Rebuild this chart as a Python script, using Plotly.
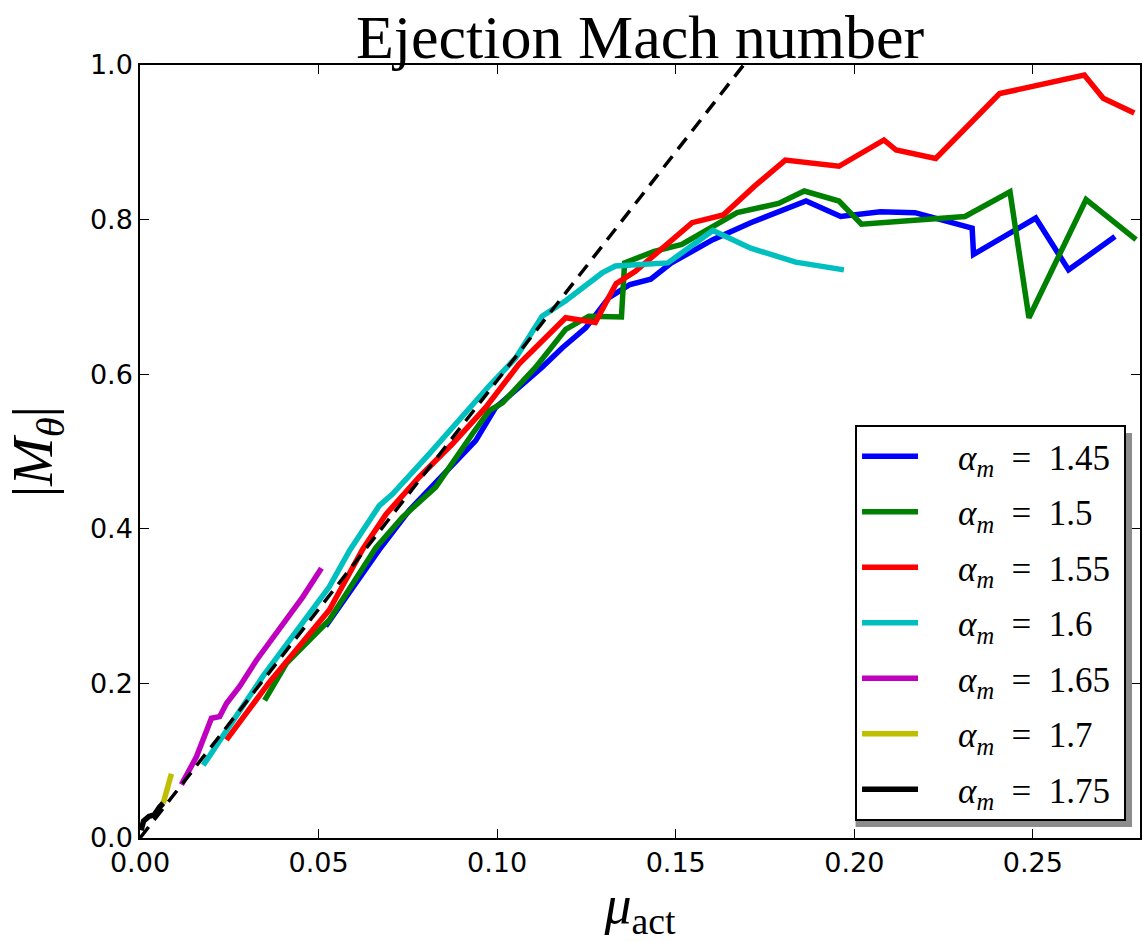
import plotly.graph_objects as go

# ---- data ----
labels = ["1.45", "1.5", "1.55", "1.6", "1.65", "1.7", "1.75"]
colors = ["#0000ff", "#008000", "#ff0000", "#00bfbf", "#bf00bf", "#bfbf00", "#000000"]

x_145 = [0.052, 0.067, 0.0754, 0.094, 0.0996, 0.1126, 0.1182, 0.1248, 0.1313, 0.1372, 0.143, 0.1488,
         0.1604, 0.171, 0.1865, 0.1962, 0.2073, 0.217, 0.233, 0.2334, 0.2508, 0.26, 0.273]
y_145 = [0.274, 0.373, 0.424, 0.514, 0.557, 0.609, 0.634, 0.660, 0.699, 0.716, 0.723, 0.744,
         0.774, 0.796, 0.824, 0.804, 0.810, 0.809, 0.789, 0.755, 0.802, 0.735, 0.778]

x_150 = [0.0349, 0.041, 0.053, 0.0661, 0.0735, 0.0828, 0.0931, 0.0978, 0.1015, 0.1108, 0.1192, 0.1257,
         0.1348, 0.1357, 0.144, 0.1517, 0.1672, 0.1788, 0.186, 0.1957, 0.202, 0.231, 0.2436, 0.2489,
         0.2649, 0.2789]
y_150 = [0.178, 0.226, 0.282, 0.376, 0.415, 0.454, 0.523, 0.553, 0.563, 0.609, 0.658, 0.675,
         0.674, 0.744, 0.759, 0.768, 0.809, 0.821, 0.837, 0.824, 0.794, 0.804, 0.836, 0.673,
         0.826, 0.774]

x_155 = [0.0242, 0.0363, 0.053, 0.0624, 0.0689, 0.0782, 0.0875, 0.0968, 0.1061, 0.1136, 0.1192, 0.1275,
         0.1333, 0.1387, 0.1546, 0.1633, 0.172, 0.1807, 0.1957, 0.2083, 0.2117, 0.2228, 0.2407, 0.2644,
         0.2697, 0.2784]
y_155 = [0.127, 0.202, 0.295, 0.374, 0.419, 0.467, 0.510, 0.557, 0.613, 0.647, 0.673, 0.667,
         0.717, 0.733, 0.796, 0.806, 0.843, 0.877, 0.869, 0.903, 0.890, 0.879, 0.963, 0.987,
         0.957, 0.938]

x_160 = [0.0177, 0.0344, 0.053, 0.0587, 0.067, 0.0707, 0.081, 0.0978, 0.1052, 0.1126, 0.1192, 0.1294,
         0.1331, 0.1478, 0.1604, 0.171, 0.1836, 0.1971]
y_160 = [0.094, 0.209, 0.325, 0.372, 0.430, 0.445, 0.497, 0.585, 0.621, 0.675, 0.695, 0.731,
         0.740, 0.744, 0.786, 0.763, 0.745, 0.735]

x_165 = [0.0116, 0.0158, 0.02, 0.0223, 0.0242, 0.0279, 0.0326, 0.0372, 0.041, 0.0456, 0.0508]
y_165 = [0.069, 0.105, 0.155, 0.157, 0.174, 0.196, 0.230, 0.260, 0.282, 0.312, 0.349]

x_170 = [0.0065, 0.0074, 0.0081, 0.0088]
y_170 = [0.045, 0.062, 0.075, 0.083]

x_175 = [0.0003, 0.001, 0.0025, 0.004, 0.0055, 0.0065]
y_175 = [0.010, 0.022, 0.028, 0.030, 0.040, 0.045]

x_ref = [0.0, 0.169]
y_ref = [0.0, 1.0]

xs = [x_145, x_150, x_155, x_160, x_165, x_170, x_175]
ys = [y_145, y_150, y_155, y_160, y_165, y_170, y_175]

x_ticks = [0.0, 0.05, 0.10, 0.15, 0.20, 0.25]
x_ticklabels = ["0.00", "0.05", "0.10", "0.15", "0.20", "0.25"]
y_ticks = [0.0, 0.2, 0.4, 0.6, 0.8, 1.0]
y_ticklabels = ["0.0", "0.2", "0.4", "0.6", "0.8", "1.0"]

NB = "\u00a0"
fig = go.Figure()
for i, (xv, yv) in enumerate(zip(xs, ys)):
    fig.add_trace(go.Scatter(
        x=xv, y=yv, mode="lines",
        line=dict(color=colors[i], width=5.5),
        name=NB * 4 + "<i>α</i><sub><i>m</i></sub>" + "\u2002=\u2002" + labels[i] + NB,
        legendgroup="g%d" % i,
    ))
fig.add_trace(go.Scatter(
    x=x_ref, y=y_ref, mode="lines",
    line=dict(color="black", width=3.5, dash="14px,9px"),
    showlegend=False, hoverinfo="skip",
))

W, H = 1143, 942
L, R, T, B = 140, 1, 65, 104
pw, ph = W - L - R, H - T - B

def px_to_paper(px, py):
    return (px - L) / pw, (H - B - py) / ph

# legend shadow (offset down-right of legend box)
sx0, sy0 = px_to_paper(857, 433)
sx1, sy1 = px_to_paper(1134, 827)
fig.add_shape(type="rect", xref="paper", yref="paper", x0=sx0, y0=sy1, x1=sx1, y1=sy0,
              fillcolor="#8c8c8c", line=dict(width=0), layer="above")

lx, ly = px_to_paper(1128, 821)

axis_common = dict(
    showline=True, linecolor="black", linewidth=1.5, mirror="allticks",
    ticks="inside", ticklen=9, tickwidth=1, tickcolor="black",
    showgrid=False, zeroline=False,
    tickfont=dict(family="DejaVu Sans", size=27, color="black"),
)

fig.update_layout(
    width=W, height=H,
    margin=dict(l=L, r=R, t=T, b=B),
    paper_bgcolor="white", plot_bgcolor="white",
    title=dict(text="Ejection Mach number", x=0.5, xref="paper", xanchor="center",
               y=1 - 36 / H, yref="container", yanchor="middle",
               font=dict(family="Liberation Serif", size=62, color="black")),
    xaxis=dict(range=[0, 0.28], tickvals=x_ticks, ticktext=x_ticklabels,
               title=dict(text="<i>μ</i><sub>act</sub>", standoff=16,
                          font=dict(family="Liberation Serif", size=54, color="black")),
               **axis_common),
    yaxis=dict(range=[0, 1.0], tickvals=y_ticks, ticktext=y_ticklabels,
               title=dict(text="|<i>M</i><sub><i>θ</i></sub>|", standoff=26,
                          font=dict(family="Liberation Serif", size=58, color="black")),
               **axis_common),
    legend=dict(x=lx, y=ly, xanchor="right", yanchor="bottom",
                bgcolor="white", bordercolor="black", borderwidth=2,
                font=dict(family="Liberation Serif", size=35, color="black"),
                tracegroupgap=7, itemwidth=56),
    showlegend=True,
)

fig.write_html("out.html")
